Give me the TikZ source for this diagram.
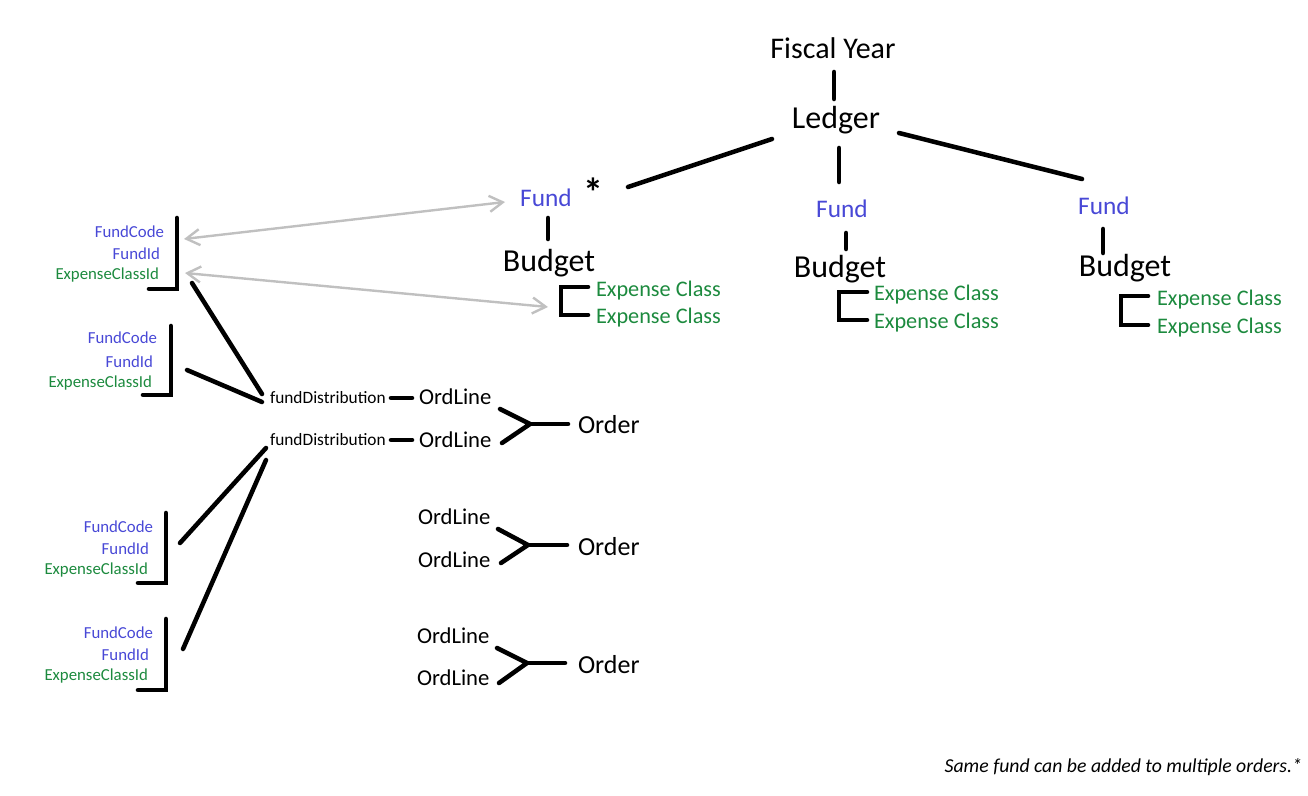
\documentclass[tikz,border=0pt]{standalone}
\usepackage{fontspec}
\setmainfont{Carlito}
\usetikzlibrary{arrows.meta}
\definecolor{fundblue}{RGB}{72,72,214}
\definecolor{ecgreen}{RGB}{28,138,62}
\definecolor{arrgray}{RGB}{192,192,192}
\begin{document}
\begin{tikzpicture}[x=0.75pt,y=-0.75pt,
  lbl/.style={inner sep=0pt, outer sep=0pt},
  fyfont/.style={lbl, anchor=base, font=\fontsize{22.5pt}{27pt}\selectfont},
  bigfont/.style={lbl, anchor=base, font=\fontsize{24pt}{29pt}\selectfont},
  fundlbl/.style={lbl, anchor=base, text=fundblue, font=\fontsize{19pt}{23pt}\selectfont},
  eclbl/.style={lbl, anchor=base west, text=ecgreen, font=\fontsize{16.7pt}{20pt}\selectfont},
  keyblue/.style={lbl, anchor=base east, text=fundblue, font=\fontsize{12.6pt}{16pt}\selectfont},
  keygreen/.style={lbl, anchor=base east, text=ecgreen, font=\fontsize{12.6pt}{16pt}\selectfont},
  fdlbl/.style={lbl, anchor=base west, font=\fontsize{13pt}{16pt}\selectfont},
  ollbl/.style={lbl, anchor=base west, font=\fontsize{17pt}{20pt}\selectfont},
  ordlbl/.style={lbl, anchor=base west, font=\fontsize{19.5pt}{23pt}\selectfont},
  notelbl/.style={lbl, anchor=base east, font=\itshape\fontsize{14.8pt}{18pt}\selectfont},
  conn/.style={line width=3.4pt, line cap=round, line join=miter},
  grayarr/.style={draw=arrgray, line width=1.8pt, {Straight Barb[length=10pt,width=12pt]}-{Straight Barb[length=10pt,width=12pt]}}
]
\useasboundingbox (0,0) rectangle (1308,795);

% ---------- labels ----------
\node[fyfont] (fy) at (833,59) {Fiscal Year};
\node[bigfont] (ledger) at (836,128) {Ledger};
\node[fundlbl] (fund1) at (546,206) {Fund};
\node[lbl, anchor=center, font=\bfseries\fontsize{30pt}{34pt}\selectfont] (ast) at (593,192) {*};
\node[fundlbl] (fund2) at (842,217) {Fund};
\node[fundlbl] (fund3) at (1104,214) {Fund};
\node[bigfont] (bud1) at (549,271) {Budget};
\node[bigfont] (bud2) at (840,277) {Budget};
\node[bigfont] (bud3) at (1125,276) {Budget};
\node[eclbl] (ec1a) at (596,296) {Expense Class};
\node[eclbl] (ec1b) at (596,323) {Expense Class};
\node[eclbl] (ec2a) at (874,300) {Expense Class};
\node[eclbl] (ec2b) at (874,328) {Expense Class};
\node[eclbl] (ec3a) at (1157,305) {Expense Class};
\node[eclbl] (ec3b) at (1157,333) {Expense Class};

% key groups
\node[keyblue] (kaCode) at (164,237) {FundCode};
\node[keyblue] (kaId) at (160,259) {FundId};
\node[keygreen] (kaEc) at (159,279) {ExpenseClassId};
\node[keyblue] (kbCode) at (157,343) {FundCode};
\node[keyblue] (kbId) at (153,367) {FundId};
\node[keygreen] (kbEc) at (152,387) {ExpenseClassId};
\node[keyblue] (kcCode) at (153,532) {FundCode};
\node[keyblue] (kcId) at (149,554) {FundId};
\node[keygreen] (kcEc) at (148,574) {ExpenseClassId};
\node[keyblue] (kdCode) at (153,638) {FundCode};
\node[keyblue] (kdId) at (149,660) {FundId};
\node[keygreen] (kdEc) at (148,680) {ExpenseClassId};

\node[fdlbl] (fd1) at (270,403) {fundDistribution};
\node[fdlbl] (fd2) at (270,445) {fundDistribution};
\node[ollbl] (ol1) at (419,404) {OrdLine};
\node[ollbl] (ol2) at (419,447) {OrdLine};
\node[ollbl] (ol3) at (418,524) {OrdLine};
\node[ollbl] (ol4) at (418,567) {OrdLine};
\node[ollbl] (ol5) at (417,643) {OrdLine};
\node[ollbl] (ol6) at (417,685) {OrdLine};
\node[ordlbl] (ord1) at (578,433) {Order};
\node[ordlbl] (ord2) at (578,555) {Order};
\node[ordlbl] (ord3) at (578,673) {Order};

\node[notelbl] (note) at (1302,772) {Same fund can be added to multiple orders.*};

% ---------- connector end points ----------
\coordinate (fyL) at (834,72);   \coordinate (ldT) at (834,99);
\coordinate (ldA) at (772,139);  \coordinate (f1A) at (628,187);
\coordinate (ldB) at (839,148);  \coordinate (f2T) at (839,182);
\coordinate (ldC) at (899,133);  \coordinate (f3T) at (1082,179);
\coordinate (f1B) at (548,218);  \coordinate (b1T) at (548,239);
\coordinate (f2B) at (846,233);  \coordinate (b2T) at (846,249);
\coordinate (f3B) at (1103,229); \coordinate (b3T) at (1103,253);

% brackets under budgets
\coordinate (br1a) at (588,287); \coordinate (br1b) at (561,287);
\coordinate (br1c) at (561,315); \coordinate (br1d) at (588,315);
\coordinate (br2a) at (867,292); \coordinate (br2b) at (839,292);
\coordinate (br2c) at (839,320); \coordinate (br2d) at (867,320);
\coordinate (br3a) at (1148,296); \coordinate (br3b) at (1121,296);
\coordinate (br3c) at (1121,325); \coordinate (br3d) at (1148,325);

% key brackets
\coordinate (kA1) at (177,218); \coordinate (kA2) at (177,289); \coordinate (kA3) at (149,289);
\coordinate (kB1) at (171,326); \coordinate (kB2) at (171,395); \coordinate (kB3) at (143,395);
\coordinate (kC1) at (166,513); \coordinate (kC2) at (166,583); \coordinate (kC3) at (138,583);
\coordinate (kD1) at (166,619); \coordinate (kD2) at (166,690); \coordinate (kD3) at (138,690);

\coordinate (kAo) at (192,283); \coordinate (fd1a) at (262,394);
\coordinate (kBo) at (187,370); \coordinate (fd1b) at (262,402);
\coordinate (kCo) at (180,543); \coordinate (fd2a) at (266,448);
\coordinate (kDo) at (183,649); \coordinate (fd2b) at (266,460);

\coordinate (fd1r) at (391,398); \coordinate (ol1l) at (412,398);
\coordinate (fd2r) at (391,440); \coordinate (ol2l) at (412,440);

% forks
\coordinate (o1u) at (500,409); \coordinate (o1d) at (502,443);
\coordinate (o1m) at (530,424); \coordinate (o1r) at (568,424);
\coordinate (o2u) at (498,529); \coordinate (o2d) at (501,563);
\coordinate (o2m) at (528,545); \coordinate (o2r) at (567,545);
\coordinate (o3u) at (497,648); \coordinate (o3d) at (499,683);
\coordinate (o3m) at (527,663); \coordinate (o3r) at (565,663);

% gray arrows
\coordinate (gA1) at (184,239); \coordinate (gA2) at (505,202);
\coordinate (gB1) at (185,273); \coordinate (gB2) at (548,307);

% ---------- connectors ----------
\draw[conn] (fyL) -- (ldT);
\draw[conn] (ldA) -- (f1A);
\draw[conn] (ldB) -- (f2T);
\draw[conn] (ldC) -- (f3T);
\draw[conn] (f1B) -- (b1T);
\draw[conn] (f2B) -- (b2T);
\draw[conn] (f3B) -- (b3T);

\draw[conn] (br1a) -- (br1b) -- (br1c) -- (br1d);
\draw[conn] (br2a) -- (br2b) -- (br2c) -- (br2d);
\draw[conn] (br3a) -- (br3b) -- (br3c) -- (br3d);

\draw[conn] (kA1) -- (kA2) -- (kA3);
\draw[conn] (kB1) -- (kB2) -- (kB3);
\draw[conn] (kC1) -- (kC2) -- (kC3);
\draw[conn] (kD1) -- (kD2) -- (kD3);

\draw[conn] (kAo) -- (fd1a);
\draw[conn] (kBo) -- (fd1b);
\draw[conn] (kCo) -- (fd2a);
\draw[conn] (kDo) -- (fd2b);

\draw[conn] (fd1r) -- (ol1l);
\draw[conn] (fd2r) -- (ol2l);

\draw[conn] (o1u) -- (o1m) -- (o1d); \draw[conn] (o1m) -- (o1r);
\draw[conn] (o2u) -- (o2m) -- (o2d); \draw[conn] (o2m) -- (o2r);
\draw[conn] (o3u) -- (o3m) -- (o3d); \draw[conn] (o3m) -- (o3r);

\draw[grayarr] (gA1) -- (gA2);
\draw[grayarr] (gB1) -- (gB2);
\end{tikzpicture}
\end{document}
